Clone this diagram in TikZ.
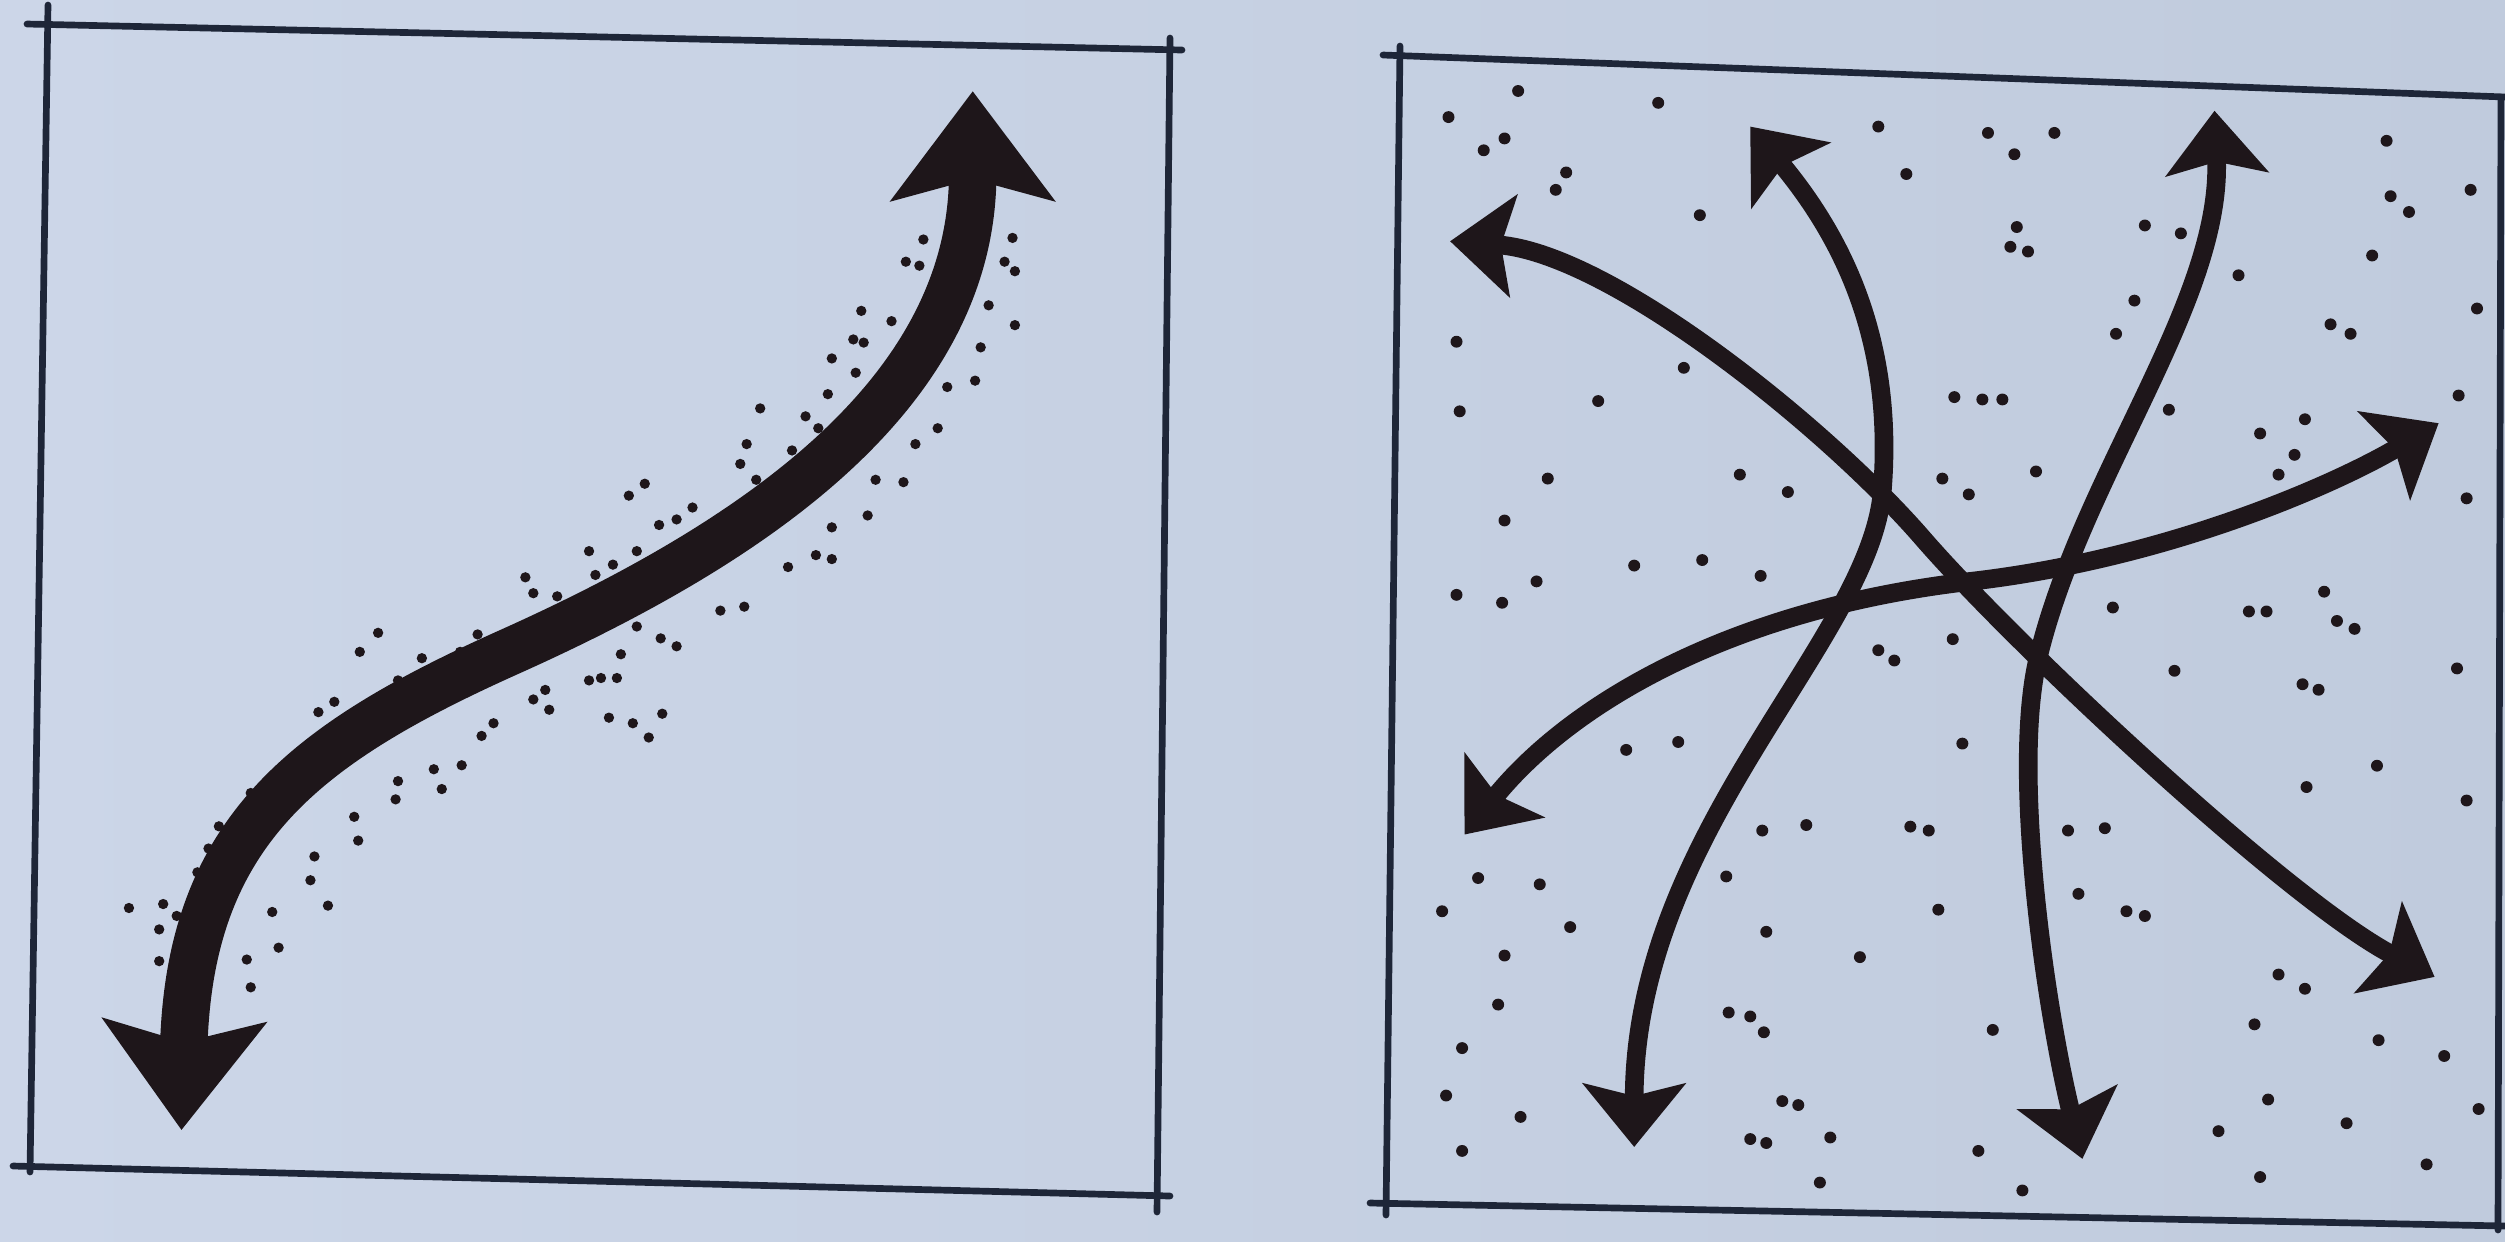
\documentclass[tikz,border=0pt]{standalone}
\usetikzlibrary{arrows.meta}
\definecolor{paperL}{RGB}{204,214,232}
\definecolor{paperR}{RGB}{192,203,221}
\definecolor{frame}{RGB}{30,38,56}
\definecolor{ink}{RGB}{30,22,26}
\begin{document}
\begin{tikzpicture}[x=0.01cm,y=-0.01cm,
  framel/.style={draw=frame,line width=1.9pt,line cap=round},
  spk/.style={fill=ink},
  bigarrow/.style={draw=ink,line width=13.5pt,
     {Stealth[length=31pt,width=46pt,inset=6pt]}-{Stealth[length=31pt,width=46pt,inset=6pt]}},
  thinarrow/.style={draw=ink,line width=5.3pt,
     {Stealth[length=18pt,width=29pt,inset=3.5pt]}-{Stealth[length=18pt,width=29pt,inset=3.5pt]}}]
\shade[left color=paperL,right color=paperR] (0,0) rectangle (2505,1241);
\useasboundingbox (0,0) rectangle (2505,1241);

% left frame
\draw[framel] (27,24) -- (1182,50);
\draw[framel] (48,5) -- (30,1172);
\draw[framel] (13,1166) -- (1170,1196);
\draw[framel] (1170,38) -- (1157,1212);
% right frame
\draw[framel] (1383,55) -- (2505,97);
\draw[framel] (1400,46) -- (1386,1215);
\draw[framel] (1370,1203) -- (2505,1226);
\draw[framel] (2501,97) -- (2498,1230);

% left panel
\begin{scope}[xscale=0.796,yscale=0.793]
\foreach \x/\y in {1160/302,1272/300,1138/330,1155/335,1262/330,1275/342,1082/392,1120/405,1242/385,1275/410,1072/428,1085/432,1232/438,1045/452,1075/470,1190/488,1225/480,1040/497,1178/540,955/515,1012/525,1028/540,1150/560,995/568,1020/565,938/560,1100/605,1135/608,930/585,950/605,975/605,1090/650,810/610,790/625,828/662,850/655,870/640,848/690,880/670,1045/665,1025/700,1045/705,990/715,740/695,800/695,770/712,748/725,905/770,935/765,660/728,670/748,700/752,690/790,800/790,830/805,850/815,780/825,755/855,740/858,775/855,475/798,452/822,530/830,578/822,600/800,620/845,500/858,490/880,685/870,670/882,690/895,765/905,795/912,815/930,832/900,400/898,420/885,440/910,410/925,385/948,500/918,620/912,605/928,580/965,545/970,555/995,500/985,497/1008,315/1000,445/1030,450/1060,275/1042,262/1070,265/1085,248/1100,395/1080,390/1110,412/1142,162/1145,205/1140,222/1155,200/1172,342/1150,350/1195,200/1212,310/1210,315/1245}
  \fill[spk] (\x,\y) circle[radius=6.5];
\draw[bigarrow] (228,1425) .. controls (238,1050) and (380,939) .. (640,822)
                           .. controls (940,687) and (1222,500) .. (1222,115);
\end{scope}

% right panel
\begin{scope}[shift={(1250,0)},xscale=0.8004,yscale=0.791]
\foreach \x/\y in {335/115,248/148,510/130,318/175,292/190,395/218,382/240,785/160,922/168,955/195,1005/168,820/220,562/272,958/287,950/312,972/318,1118/285,1163/295,1420/178,1425/248,1448/268,1525/240,1235/348,1402/323,1105/380,1082/422,1533/390,1350/410,1375/422,258/432,542/465,435/507,262/520,880/502,915/505,940/505,1148/518,1510/500,1262/548,1318/530,1305/575,1285/600,372/605,612/600,672/622,865/605,898/625,982/596,1520/630,318/658,480/715,565/708,638/728,358/735,258/752,315/762,1078/768,1248/773,1270/773,1342/748,1358/785,1380/795,785/822,805/835,878/808,1155/848,1315/865,1335/872,1508/845,470/948,535/938,890/940,1408/968,1320/995,1520/1012,640/1050,695/1043,825/1045,848/1050,1022/1050,1068/1047,285/1110,362/1118,595/1108,240/1152,400/1172,860/1150,1035/1130,1095/1152,1118/1158,645/1178,318/1208,762/1210,1285/1232,1318/1250,310/1270,598/1280,625/1285,642/1305,928/1302,1255/1295,265/1325,1410/1315,1492/1335,245/1385,338/1412,665/1392,685/1397,1272/1390,1370/1420,1535/1402,725/1438,625/1440,645/1445,1210/1430,265/1455,910/1455,1470/1472,712/1495,965/1505,1262/1488}
  \fill[spk] (\x,\y) circle[radius=7.5];
% upper-left to lower-right
\draw[thinarrow] (250,305) .. controls (450,320) and (720,540) .. (840,680)
                           .. controls (960,820) and (1300,1140) .. (1480,1235);
% top-left to bottom-left
\draw[thinarrow] (625,160) .. controls (740,300) and (805,430) .. (790,620)
                           .. controls (775,810) and (480,1050) .. (480,1450);
% top-right to bottom-right
\draw[thinarrow] (1205,140) .. controls (1215,380) and (1040,600) .. (985,830)
                            .. controls (950,975) and (995,1280) .. (1040,1465);
% lower-left to upper-right
\draw[thinarrow] (268,1055) .. controls (400,890) and (600,770) .. (900,735)
                            .. controls (1150,706) and (1360,610) .. (1485,535);
\end{scope}
\end{tikzpicture}
\end{document}
